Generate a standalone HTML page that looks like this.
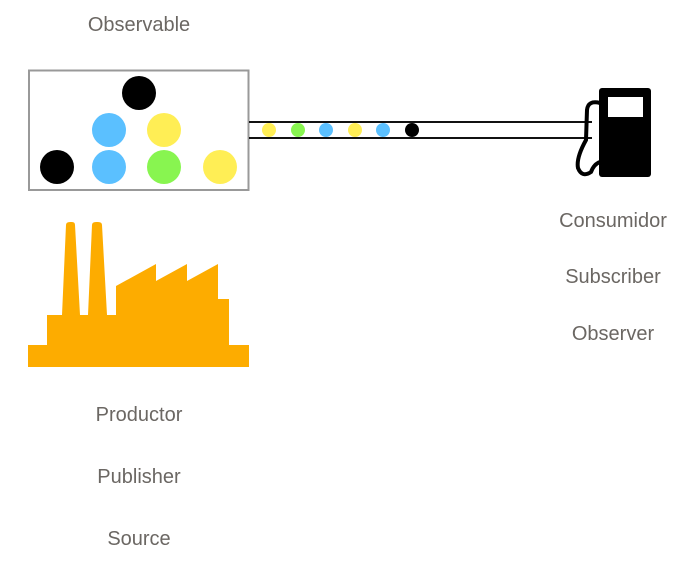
<!DOCTYPE html>
<html><head><style>
body{margin:0;background:#fff;}
svg text{font-family:"Liberation Sans",sans-serif;font-size:20px;fill:#6b6763;text-anchor:middle;}
</style></head><body>
<svg width="693" height="567" viewBox="0 0 693 567" xmlns="http://www.w3.org/2000/svg">
<text x="139" y="31">Observable</text>
<rect x="29" y="70.5" width="219.5" height="119.5" fill="#fff" stroke="#999" stroke-width="2"/>
<circle cx="139" cy="93" r="17" fill="#000"/>
<circle cx="109" cy="130" r="17" fill="#5bc0ff"/>
<circle cx="164" cy="130" r="17" fill="#ffee55"/>
<circle cx="57" cy="167" r="17" fill="#000"/>
<circle cx="109" cy="167" r="17" fill="#5bc0ff"/>
<circle cx="164" cy="167" r="17" fill="#88f550"/>
<circle cx="220" cy="167" r="17" fill="#ffee55"/>
<line x1="249" y1="122" x2="592" y2="122" stroke="#111" stroke-width="2"/>
<line x1="249" y1="138" x2="592" y2="138" stroke="#111" stroke-width="2"/>
<circle cx="269" cy="130" r="7" fill="#ffee55"/>
<circle cx="298" cy="130" r="7" fill="#88f550"/>
<circle cx="326" cy="130" r="7" fill="#5bc0ff"/>
<circle cx="355" cy="130" r="7" fill="#ffee55"/>
<circle cx="383" cy="130" r="7" fill="#5bc0ff"/>
<circle cx="412" cy="130" r="7" fill="#000"/>
<rect x="599" y="88" width="52" height="89" rx="3" fill="#000"/>
<rect x="608" y="97" width="35" height="20" fill="#fff"/>
<path d="M600 103 Q588 100 587 110 L586 140 Q576 158 578 168 Q582 178 591 172 Q594 164 600 162" fill="none" stroke="#000" stroke-width="4"/>
<path d="M28 345 L47 345 L47 315 L62 315 L66 225 Q66 222 70 222 L72 222 Q75 222 75 225 L80 315 L88 315 L92 225 Q92 222 96 222 L98 222 Q102 222 102 225 L107 315 L116 315 L116 286 L156 264 L156 281 L187 264 L187 281 L218 264 L218 299 L229 299 L229 345 L249 345 L249 367 L28 367 Z" fill="#fdac00"/>
<text x="139" y="421">Productor</text>
<text x="139" y="483">Publisher</text>
<text x="139" y="545">Source</text>
<text x="613" y="227">Consumidor</text>
<text x="613" y="283">Subscriber</text>
<text x="613" y="340">Observer</text>
</svg>
</body></html>
